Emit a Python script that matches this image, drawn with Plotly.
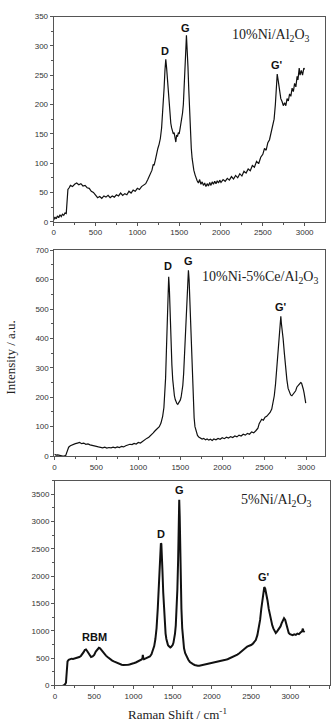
import plotly.graph_objects as go

# ---- Panel 1: 10%Ni/Al2O3 ----
x1 = [0, 15, 30, 45, 60, 75, 90, 105, 120, 135, 150, 160, 170, 185, 200, 225, 250, 275, 300, 325, 350, 375, 400,
      425, 450, 475, 500, 525, 550, 575, 600, 625, 650, 675, 700, 725, 750, 775, 800, 825, 850, 875, 900, 925,
      950, 975, 1000, 1025, 1050, 1075, 1100, 1125, 1150, 1175, 1190, 1200, 1215, 1230, 1245, 1260, 1275, 1290,
      1300, 1310, 1320, 1330, 1340, 1345, 1350, 1360, 1370, 1380, 1390, 1400, 1410, 1420, 1430, 1440, 1450, 1460,
      1470, 1480, 1490, 1500, 1510, 1520, 1530, 1540, 1550, 1560, 1570, 1580, 1587, 1595, 1605, 1615, 1625, 1635,
      1645, 1655, 1665, 1675, 1690, 1700, 1715, 1730, 1745, 1760, 1775, 1790, 1805, 1820, 1835, 1850, 1865, 1880,
      1895, 1910, 1925, 1940, 1955, 1970, 1985, 2000, 2025, 2050, 2075, 2100, 2125, 2150, 2175, 2200, 2225, 2250,
      2275, 2300, 2325, 2350, 2375, 2400, 2425, 2450, 2475, 2500, 2520, 2540, 2560, 2580, 2600, 2620, 2635, 2650,
      2660, 2672, 2685, 2700, 2715, 2730, 2745, 2760, 2775, 2790, 2805, 2820, 2835, 2850, 2865, 2880, 2895, 2910,
      2920, 2935, 2945, 2960, 2975, 2990, 3000]
y1 = [3, 8, 5, 10, 7, 12, 9, 13, 11, 15, 14, 40, 55, 58, 62, 60, 64, 66, 63, 65, 61, 62, 58,
      57, 52, 50, 45, 41, 43, 40, 44, 42, 45, 41, 44, 42, 46, 44, 49, 45, 48, 46, 52, 49,
      54, 52, 57, 55, 60, 63, 65, 72, 80, 88, 98, 96, 105, 118, 125, 132, 142, 160,
      178, 200, 228, 258, 277, 270, 262, 240, 215, 195, 178, 168, 160, 155, 150, 152, 142, 136,
      148, 145, 152, 150, 158, 165, 172, 185, 200, 225, 258, 295, 318, 300, 265, 225, 185, 150,
      125, 108, 95, 88, 80, 74, 70, 66, 72, 64, 68, 62, 66, 60, 65, 61, 67, 62,
      68, 64, 69, 65, 70, 66, 71, 67, 72, 69, 74, 71, 77, 73, 79, 75, 82, 78,
      86, 83, 90, 87, 96, 93, 103, 99, 110, 115, 125, 122, 135, 140, 152, 165, 175, 200,
      230, 252, 240, 220, 210, 205, 198, 203, 198, 210, 206, 218, 214, 228, 222, 236, 230, 248,
      242, 262, 250, 258, 250, 262, 260]

# ---- Panel 2: 10%Ni-5%Ce/Al2O3 ----
x2 = [0, 20, 40, 60, 80, 100, 120, 135, 145, 155, 170, 190, 210, 230, 250, 275, 300, 325, 350, 375, 400, 425,
      450, 475, 500, 525, 550, 575, 600, 625, 650, 675, 700, 725, 750, 775, 800, 825, 850, 875, 900, 925, 950,
      975, 1000, 1025, 1050, 1075, 1100, 1125, 1150, 1175, 1200, 1225, 1250, 1270, 1290, 1305, 1315, 1325, 1335,
      1345, 1355, 1362, 1370, 1380, 1390, 1400, 1410, 1420, 1430, 1440, 1450, 1460, 1470, 1480, 1490, 1500, 1510,
      1520, 1530, 1540, 1550, 1560, 1570, 1580, 1590, 1597, 1605, 1615, 1625, 1635, 1645, 1655, 1665, 1675, 1690,
      1705, 1720, 1740, 1760, 1780, 1800, 1820, 1840, 1860, 1880, 1900, 1925, 1950, 1975, 2000, 2025, 2050, 2075,
      2100, 2125, 2150, 2175, 2200, 2225, 2250, 2275, 2300, 2325, 2350, 2375, 2400, 2425, 2440, 2455, 2470, 2490,
      2510, 2530, 2550, 2570, 2590, 2605, 2620, 2635, 2650, 2665, 2680, 2690, 2698, 2705, 2715, 2725, 2740, 2755,
      2770, 2785, 2800, 2815, 2830, 2845, 2860, 2875, 2890, 2905, 2920, 2935, 2945, 2955, 2965, 2975, 2985, 2995]
y2 = [6, 3, 4, 2, 1, 0, 1, 2, 10, 22, 30, 35, 38, 40, 42, 44, 46, 42, 44, 40, 41, 38,
      37, 35, 33, 31, 29, 28, 30, 27, 29, 28, 30, 28, 31, 29, 33, 31, 35, 38, 40, 39, 43,
      41, 46, 44, 50, 55, 60, 64, 70, 78, 86, 92, 100, 112, 135, 165, 205, 265, 360,
      470, 580, 610, 570, 470, 380, 310, 260, 225, 205, 192, 184, 178, 176, 180, 182, 190, 200,
      215, 240, 280, 340, 420, 500, 570, 615, 632, 600, 520, 420, 320, 240, 175, 130, 100, 80,
      70, 65, 62, 58, 60, 55, 58, 54, 57, 53, 58, 55, 60, 57, 62, 59, 64, 61,
      66, 63, 68, 65, 71, 68, 74, 71, 77, 74, 82, 79, 86, 95, 110, 118, 125, 122,
      132, 135, 140, 148, 160, 178, 205, 245, 300, 360, 420, 450, 475, 450, 430, 400, 350, 300,
      260, 230, 215, 208, 205, 212, 218, 222, 235, 240, 245, 250, 248, 240, 228, 215, 198, 180]

# ---- Panel 3: 5%Ni/Al2O3 ----
x3 = [100, 115, 130, 140, 145, 150, 160, 175, 190, 210, 230, 250, 270, 290, 310, 330, 350, 365, 380, 395, 410,
      425, 440, 460, 480, 500, 520, 540, 560, 575, 590, 610, 630, 650, 670, 690, 710, 730, 750, 770, 790, 810,
      830, 850, 870, 890, 910, 930, 950, 970, 990, 1010, 1030, 1050, 1070, 1090, 1105, 1115, 1120, 1125, 1135,
      1150, 1170, 1190, 1210, 1230, 1250, 1265, 1280, 1295, 1310, 1320, 1330, 1340, 1350, 1356, 1362, 1370, 1380,
      1390, 1400, 1410, 1420, 1430, 1440, 1450, 1460, 1470, 1480, 1490, 1500, 1510, 1520, 1530, 1540, 1550, 1560,
      1570, 1578, 1584, 1590, 1596, 1603, 1612, 1622, 1632, 1645, 1660, 1680, 1700, 1720, 1740, 1760, 1780, 1800,
      1820, 1840, 1860, 1880, 1900, 1925, 1950, 1975, 2000, 2025, 2050, 2075, 2100, 2125, 2150, 2175, 2200, 2225,
      2250, 2275, 2300, 2325, 2350, 2375, 2400, 2425, 2450, 2475, 2500, 2520, 2540, 2560, 2580, 2600, 2615, 2630,
      2645, 2658, 2668, 2680, 2695, 2710, 2725, 2740, 2755, 2770, 2785, 2800, 2815, 2830, 2845, 2860, 2875, 2890,
      2905, 2920, 2935, 2950, 2965, 2980, 2995, 3010, 3030, 3050, 3070, 3090, 3110, 3130, 3150, 3160, 3170, 3180]
y3 = [0, 5, 25, 50, 150, 350, 440, 470, 480, 490, 485, 495, 500, 505, 520, 540, 570, 610, 650, 660, 630,
      590, 550, 520, 530, 560, 620, 660, 690, 680, 650, 620, 580, 545, 520, 495, 475, 455, 440, 425, 410, 400,
      390, 380, 375, 372, 375, 378, 385, 390, 400, 410, 420, 435, 450, 460, 475, 500, 560, 505, 480,
      490, 500, 510, 530, 570, 640, 720, 850, 1050, 1400, 1750, 2150, 2450, 2600, 2590, 2450, 2100, 1700,
      1350, 1100, 950, 850, 780, 740, 720, 700, 695, 705, 715, 740, 780, 850, 950, 1100, 1350, 1750,
      2300, 2900, 3400, 3100, 2500, 1900, 1400, 1050, 820, 680, 590, 520, 470, 430, 405, 390, 375, 365,
      360, 362, 368, 372, 378, 385, 392, 400, 405, 415, 425, 432, 440, 450, 460, 470, 480, 495,
      510, 525, 545, 565, 590, 615, 640, 680, 710, 720, 740, 760, 790, 830, 920, 1050, 1200, 1400,
      1600, 1760, 1800, 1770, 1680, 1550, 1400, 1280, 1180, 1100, 1040, 990, 960, 985, 1020, 1040, 1080, 1140,
      1200, 1230, 1200, 1120, 1020, 960, 940, 930, 920, 935, 925, 950, 940, 970, 990, 1040, 980, 1000]

titles = ["10%Ni/Al<sub>2</sub>O<sub>3</sub>", "10%Ni-5%Ce/Al<sub>2</sub>O<sub>3</sub>",
          "5%Ni/Al<sub>2</sub>O<sub>3</sub>"]
title_pos = [(2600, 317), (2453, 608), (2823, 3379)]
peak_labels = [
    [("D", 1334, 292), ("G", 1580, 331), ("G'", 2672, 268)],
    [("D", 1353, 647), ("G", 1596, 663), ("G'", 2698, 506)],
    [("RBM", 499, 884), ("D", 1352, 2778), ("G", 1584, 3578), ("G'", 2662, 1985)],
]

W, H = 334, 727
# pixel geometry of the three plot boxes: (left, right, top, bottom)
boxes = [(52, 325, 12.7, 220.5), (52.7, 325, 249.3, 457.7), (53.3, 329.5, 482.5, 690)]
xranges = [[0, 3244], [0, 3225], [0, 3500]]
yranges = [[0, 350], [0, 700], [0, 3750]]
ydticks = [50, 100, 500]
line_w = [1.2, 1.2, 2.0]

fig = go.Figure()
data = [(x1, y1), (x2, y2), (x3, y3)]
layout = dict(width=W, height=H, margin=dict(l=0, r=0, t=0, b=0),
              paper_bgcolor="white", plot_bgcolor="white", showlegend=False)
annotations = []
axcol = "#555555"
tickfont = dict(family="Liberation Sans, Arial", size=8, color="#333333")
for i, ((xs, ys), (l, r, t, b)) in enumerate(zip(data, boxes)):
    n = "" if i == 0 else str(i + 1)
    xa, ya = "x" + n, "y" + n
    fig.add_trace(go.Scatter(x=xs, y=ys, mode="lines", xaxis=xa, yaxis=ya,
                             line=dict(color="#111111", width=line_w[i])))
    layout["xaxis" + n] = dict(domain=[l / W, r / W], range=xranges[i], anchor=ya,
                               showline=True, linecolor=axcol, linewidth=1, mirror=True,
                               ticks="outside", ticklen=3, tickcolor=axcol, tickwidth=1,
                               dtick=500, tick0=0, showgrid=False, zeroline=False,
                               tickfont=tickfont,
                               minor=dict(ticks="outside", ticklen=2, tickcolor=axcol, dtick=250))
    layout["yaxis" + n] = dict(domain=[(H - b) / H, (H - t) / H], range=yranges[i], anchor=xa,
                               showline=True, linecolor=axcol, linewidth=1, mirror=True,
                               ticks="outside", ticklen=3, tickcolor=axcol, tickwidth=1,
                               dtick=ydticks[i], tick0=0, showgrid=False, zeroline=False,
                               tickfont=tickfont,
                               minor=dict(ticks="outside", ticklen=2, tickcolor=axcol,
                                          dtick=ydticks[i] / 2))
    tx, ty = title_pos[i]
    annotations.append(dict(x=tx, y=ty, xref=xa, yref=ya, text=titles[i], showarrow=False,
                            font=dict(family="Liberation Serif, Times New Roman", size=14,
                                      color="#222222")))
    for lab, px, py in peak_labels[i]:
        annotations.append(dict(x=px, y=py, xref=xa, yref=ya, text="<b>%s</b>" % lab,
                                showarrow=False,
                                font=dict(family="Liberation Sans, Arial", size=11,
                                          color="#111111")))

annotations.append(dict(x=9 / W, y=(H - 358) / H, xref="paper", yref="paper",
                        text="Intensity / a.u.", textangle=-90, showarrow=False,
                        xanchor="center", yanchor="middle",
                        font=dict(family="Liberation Serif, Times New Roman", size=13,
                                  color="#222222")))
annotations.append(dict(x=177 / W, y=(H - 719) / H, xref="paper", yref="paper",
                        text="Raman Shift / cm<sup>-1</sup>", showarrow=False,
                        xanchor="center", yanchor="middle",
                        font=dict(family="Liberation Serif, Times New Roman", size=13,
                                  color="#222222")))
layout["annotations"] = annotations
fig.update_layout(**layout)
fig.write_html("out.html")
